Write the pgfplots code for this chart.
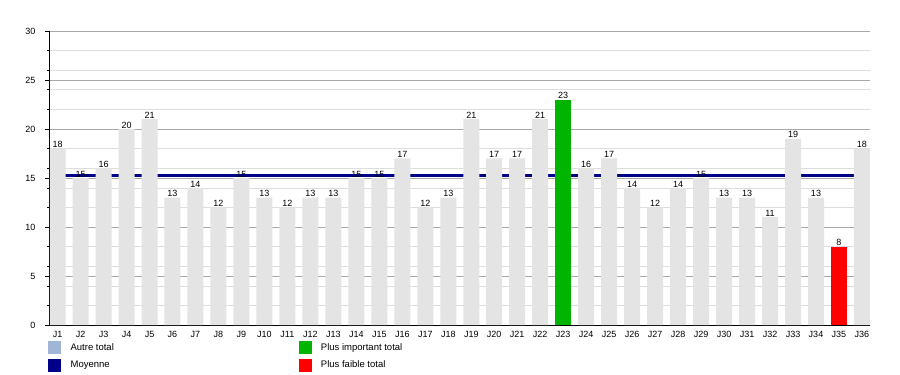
\documentclass[border=0pt]{standalone}
\usepackage{pgfplots}
\pgfplotsset{compat=1.18}
\usepackage{fontspec}
\setmainfont{Liberation Sans}
\definecolor{barg}{HTML}{E4E4E4}
\definecolor{moy}{HTML}{000088}
\definecolor{autre}{HTML}{A0B6D6}
\definecolor{vert}{HTML}{00B400}
\definecolor{rouge}{HTML}{FF0000}
\definecolor{majg}{HTML}{A8A8A8}
\definecolor{ming}{HTML}{DDDDDD}
\begin{document}
\begin{tikzpicture}
\useasboundingbox (-50pt,-50pt) rectangle (850pt,325pt);
\begin{axis}[
  at={(0pt,0pt)}, anchor=origin,
  scale only axis, width=820pt, height=294pt,
  /pgf/number format/assume math mode=true,
  xmin=0.67, xmax=36.35, ymin=0, ymax=30,
  axis lines*=left,
  axis line style={black, line width=1pt},
  xtick={1,...,36},
  xticklabels={J1,J2,J3,J4,J5,J6,J7,J8,J9,J10,J11,J12,J13,J14,J15,J16,J17,J18,J19,J20,J21,J22,J23,J24,J25,J26,J27,J28,J29,J30,J31,J32,J33,J34,J35,J36},
  x tick label style={font=\fontsize{9}{10}\selectfont, yshift=2pt},
  major x tick style={draw=none},
  ytick={0,5,...,30},
  minor ytick={2,4,...,28},
  y tick label style={font=\fontsize{9}{10}\selectfont, xshift=-6pt},
  tick align=outside,
  major tick length=5pt, minor tick length=2.5pt,
  tick style={black, line width=0.6pt},
  ymajorgrids, yminorgrids,
  major grid style={majg, line width=0.6pt},
  minor grid style={ming, line width=0.6pt},
  ybar, bar width=16pt, bar shift=0pt,
  nodes near coords,
  nodes near coords style={font=\fontsize{9}{10}\selectfont, anchor=south, inner sep=0.6pt, black},
  legend columns=2,
  legend cell align=left,
  legend style={at={(0,0)}, anchor=north west, xshift=-2pt, yshift=-16pt,
    draw=none, fill=none, inner sep=0pt, font=\fontsize{9.5}{11}\selectfont,
    nodes={inner sep=0pt},
    row sep=5pt,
    /tikz/every odd column/.append style={column sep=10pt}},
  legend image code/.code={\fill[#1] (0pt,-6pt) rectangle (12pt,6pt);},
]
\addplot[ybar=false, sharp plot, moy, line width=3pt, nodes near coords={}, forget plot] coordinates {(0.67,15.25) (36.35,15.25)};
\addplot[fill=barg, draw=none, forget plot] coordinates {
(1,18) (2,15) (3,16) (4,20) (5,21) (6,13) (7,14) (8,12) (9,15) (10,13)
(11,12) (12,13) (13,13) (14,15) (15,15) (16,17) (17,12) (18,13) (19,21) (20,17)
(21,17) (22,21) (24,16) (25,17) (26,14) (27,12) (28,14) (29,15) (30,13)
(31,13) (32,11) (33,19) (34,13) (36,18)};
\addplot[fill=vert, draw=none, forget plot] coordinates {(23,23)};
\addplot[fill=rouge, draw=none, forget plot] coordinates {(35,8)};
\addlegendimage{autre}
\addlegendentry{\makebox[228pt][l]{Autre total}}
\addlegendimage{vert}
\addlegendentry{Plus important total}
\addlegendimage{moy}
\addlegendentry{\makebox[228pt][l]{Moyenne}}
\addlegendimage{rouge}
\addlegendentry{Plus faible total}
\end{axis}
\end{tikzpicture}
\end{document}
